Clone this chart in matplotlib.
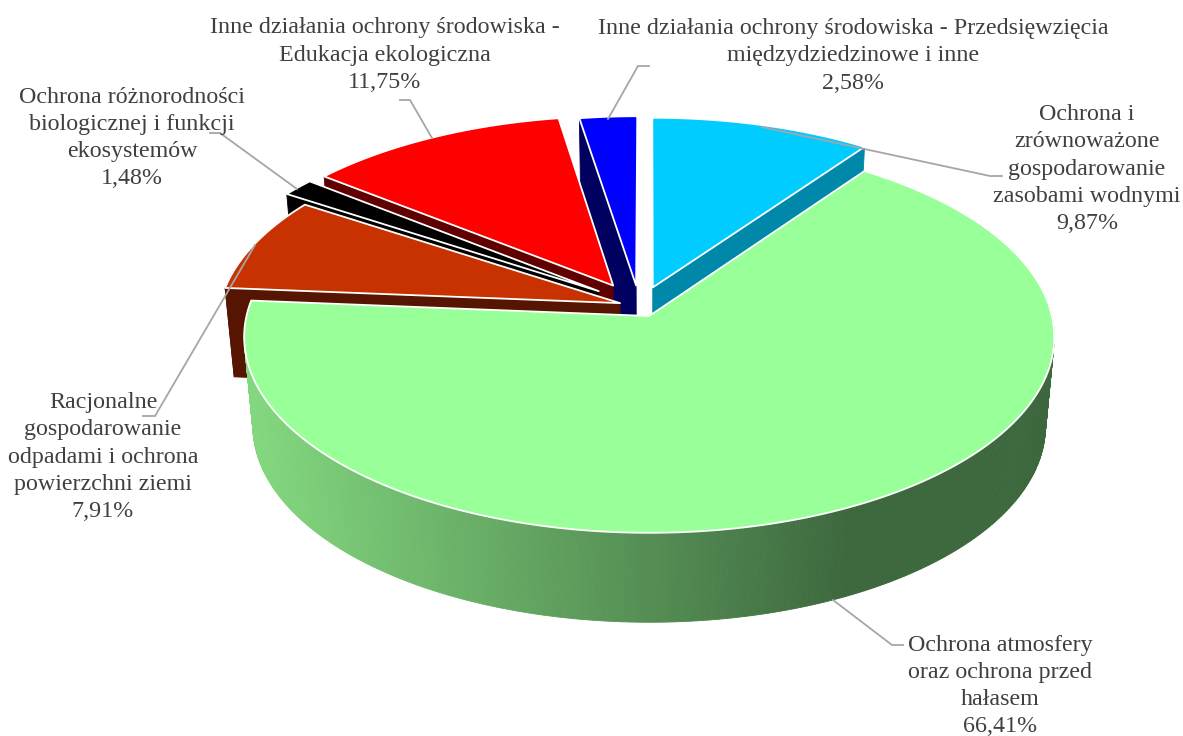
"""Exploded 3D pie of environmental protection spending shares."""
import numpy as np
import matplotlib
matplotlib.use("Agg")
import matplotlib.pyplot as plt
from matplotlib.patches import Polygon

plt.rcParams["font.family"] = ["Liberation Serif", "DejaVu Serif"]

# clockwise from 12 o'clock
labels = [
    "Ochrona i\nzrównoważone\ngospodarowanie\nzasobami wodnymi",
    "Ochrona atmosfery\noraz ochrona przed\nhałasem",
    "Racjonalne\ngospodarowanie\nodpadami i ochrona\npowierzchni ziemi",
    "Ochrona różnorodności\nbiologicznej i funkcji\nekosystemów",
    "Inne działania ochrony środowiska -\nEdukacja ekologiczna",
    "Inne działania ochrony środowiska - Przedsięwzięcia\nmiędzydziedzinowe i inne",
]
values = [9.87, 66.41, 7.91, 1.48, 11.75, 2.58]
top_colors = ["#00CCFF", "#99FF99", "#C83200", "#000000", "#FF0000", "#0000FF"]
wall_colors = ["#0088AA", "#3D683E", "#551500", "#000000", "#600000", "#000060"]

# slice offsets on the pie plane, painter's order, label anchors
explode = [(0.012, 0.15), (0.003, 0), (-0.07, 0.067), (-0.124, 0.13), (-0.088, 0.16), (-0.03, 0.16)]
draw_order = [5, 0, 4, 3, 2, 1]
label_xy = [(1087, 169), (1000, 686), (103, 457), (132, 138), (385, 55), (853, 56)]
leaders = [
    [(762, 127), (990, 176), (1002, 176)],
    [(833, 600), (892, 645), (903, 645)],
    [(255, 245), (155, 416), (143, 416)],
    [(297, 189), (220, 133), (210, 133)],
    [(432, 138), (410, 100), (400, 100)],
    [(608, 119), (638, 66), (649, 66)],
]

CX, K = 650, 0.107
GRAD_LEFT = np.array([131, 216, 127]) / 255
GRAD_RIGHT = np.array([61, 104, 62]) / 255


def project(x, y, bottom=False):
    w = 1 + K * y
    if bottom:
        return CX - 2 + 394 * x / w, 405 - 194 * y / w
    return CX - 2 + 402.7 * x / w, 316 - 193.6 * y / w


def rim(theta, off, bottom=False):
    return project(np.sin(theta) + off[0], np.cos(theta) + off[1], bottom)


def poly(ax, pts, color, edge=None, lw=0.6):
    ax.add_patch(Polygon(pts, closed=True, facecolor=color, edgecolor=edge or color,
                         linewidth=lw, joinstyle="round"))


def main():
    fig = plt.figure(figsize=(11.83, 7.36), dpi=100)
    ax = fig.add_axes([0, 0, 1, 1])
    ax.set_xlim(0, 1183)
    ax.set_ylim(736, 0)
    ax.axis("off")

    edges = np.radians(np.cumsum([0] + values) * 3.6)

    for i in draw_order:
        a0, a1 = edges[i], edges[i + 1]
        off = explode[i]
        ts = np.linspace(a0, a1, max(int(np.degrees(a1 - a0) * 2), 8))
        apex_t = project(off[0], off[1])
        apex_b = project(off[0], off[1], True)

        # radial walls, only the ones facing the viewer
        if np.sin(a0) < -1e-6:
            poly(ax, [apex_t, rim(a0, off), rim(a0, off, True), apex_b], wall_colors[i])
        if np.sin(a1) > 1e-6:
            poly(ax, [apex_t, rim(a1, off), rim(a1, off, True), apex_b], wall_colors[i])

        # outer wall, shaded strip by strip on the big slice; back part stays hidden
        for t0, t1 in zip(ts[:-1], ts[1:]):
            if np.cos((t0 + t1) / 2) > 0.2:
                continue
            quad = [rim(t0, off), rim(t1, off), rim(t1, off, True), rim(t0, off, True)]
            color = wall_colors[i]
            if i == 1:
                f = np.clip((rim((t0 + t1) / 2, off)[0] - 250) / 600, 0, 1)
                color = tuple(GRAD_LEFT + (GRAD_RIGHT - GRAD_LEFT) * f)
            poly(ax, quad, color)

        # top face
        top = [apex_t] + [rim(t, off) for t in ts]
        poly(ax, top, top_colors[i], edge="white", lw=1.3)

    for pts in leaders:
        xs, ys = zip(*pts)
        ax.plot(xs, ys, color="#A6A6A6", lw=1.3, solid_joinstyle="miter")

    for name, v, (x, y) in zip(labels, values, label_xy):
        txt = name + "\n" + f"{v:.2f}".replace(".", ",") + "%"
        ax.text(x, y, txt, ha="center", va="center", fontsize=17.3,
                color="#404040", linespacing=1.39)

    fig.savefig("out.png", dpi=100)
    plt.close(fig)


if __name__ == "__main__":
    main()
